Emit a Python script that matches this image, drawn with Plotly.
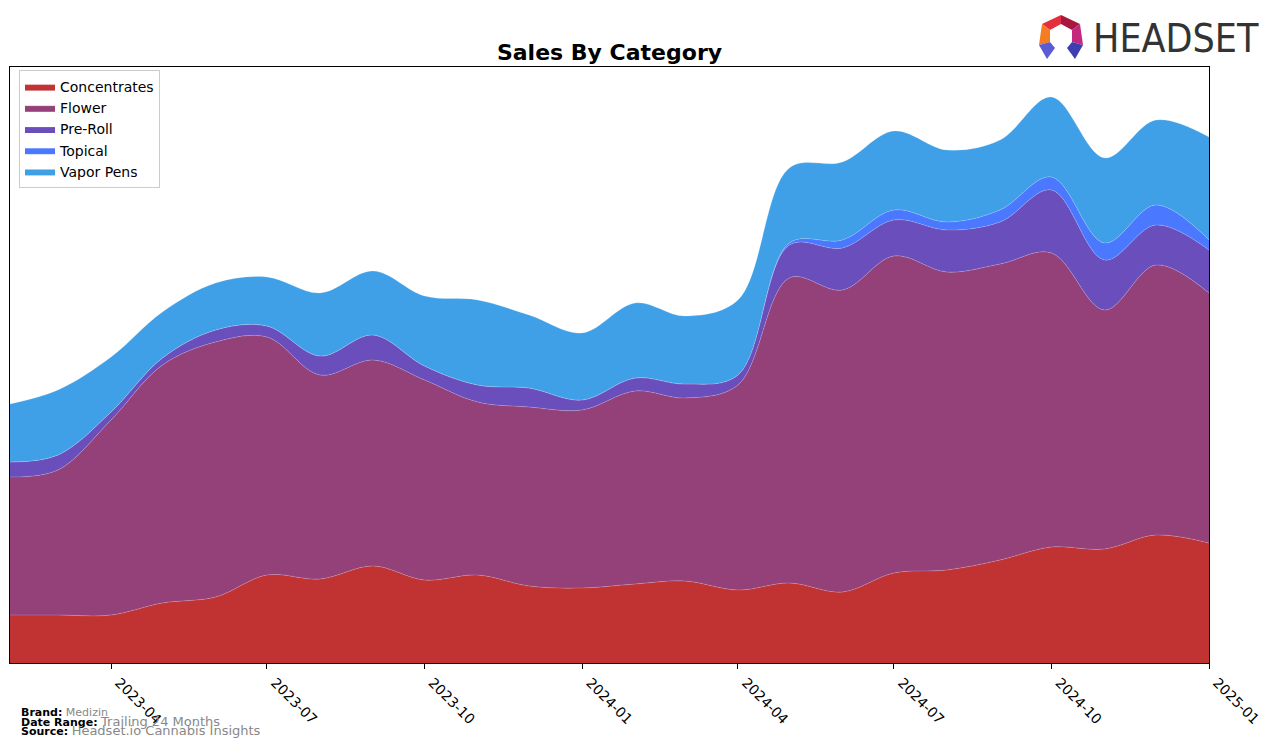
import plotly.graph_objects as go

# ---- data (arbitrary units) ----
months = ["2023-02-01", "2023-03-01", "2023-04-01", "2023-05-01", "2023-06-01", "2023-07-01",
          "2023-08-01", "2023-09-01", "2023-10-01", "2023-11-01", "2023-12-01", "2024-01-01",
          "2024-02-01", "2024-03-01", "2024-04-01", "2024-05-01", "2024-06-01", "2024-07-01",
          "2024-08-01", "2024-09-01", "2024-10-01", "2024-11-01", "2024-12-01", "2025-01-01"]

concentrates = [48, 48, 48, 60, 66, 88, 84, 97, 83, 88, 77, 75, 79, 82, 73, 80, 71, 90, 93, 103, 116, 114, 128, 120]
flower = [138, 145, 195, 238, 255, 238, 204, 206, 200, 173, 179, 178, 193, 183, 205, 305, 302, 317, 298, 296, 294, 239, 270, 250]
pre_roll = [15, 15, 8, 7, 12, 11, 19, 25, 14, 17, 19, 10, 13, 14, 10, 33, 42, 36, 42, 42, 63, 50, 40, 43]
topical = [0, 0, 0, 0, 0, 0, 0, 0, 0, 0, 0, 0, 0, 0, 0, 2, 8, 10, 8, 12, 13, 17, 20, 10]
vapor_pens = [58, 65, 55, 46, 47, 49, 63, 64, 70, 85, 73, 67, 75, 68, 75, 75, 78, 79, 72, 70, 80, 85, 85, 103]

tick_vals = ["2023-04-01", "2023-07-01", "2023-10-01", "2024-01-01",
             "2024-04-01", "2024-07-01", "2024-10-01", "2025-01-01"]
tick_text = ["2023-04", "2023-07", "2023-10", "2024-01", "2024-04", "2024-07", "2024-10", "2025-01"]

series = [
    ("Concentrates", concentrates, "#C13333"),
    ("Flower", flower, "#954179"),
    ("Pre-Roll", pre_roll, "#6A4FBC"),
    ("Topical", topical, "#4A78FF"),
    ("Vapor Pens", vapor_pens, "#3FA0E8"),
]

FONT = "DejaVu Sans"
W, H = 1276, 748
ML, MR, MT, MB = 10, 67, 67, 85
PW, PH = W - ML - MR, H - MT - MB

fig = go.Figure()
for name, vals, col in series:
    fig.add_trace(go.Scatter(
        x=months, y=vals, name=name, mode="lines", stackgroup="one",
        line=dict(shape="spline", smoothing=1.0, width=0.7, color="rgba(255,255,255,0.25)"),
        fillcolor=col,
    ))


def px2paper(px, py):
    return (px - ML) / PW, (H - MB - py) / PH


def path(points):
    s = ""
    for i, (px, py) in enumerate(points):
        x, y = px2paper(px, py)
        s += ("M" if i == 0 else "L") + f"{x:.5f},{y:.5f} "
    return s + "Z"


logo_facets = [
    ([(1042, 24), (1061, 15), (1061, 24), (1050, 30)], "#E3303C"),
    ([(1061, 15), (1080, 24), (1072, 30), (1061, 24)], "#A8173F"),
    ([(1042, 24), (1050, 30), (1050, 42), (1039, 45)], "#F47C22"),
    ([(1080, 24), (1083, 45), (1072, 42), (1072, 30)], "#C2287E"),
    ([(1039, 45), (1050, 42), (1055, 48), (1047, 59)], "#5B5BD6"),
    ([(1083, 45), (1072, 42), (1067, 48), (1075, 59)], "#3E3EB0"),
]
shapes = [dict(type="path", xref="paper", yref="paper", path=path(pts),
               fillcolor=c, line=dict(width=0)) for pts, c in logo_facets]

lx, ly = px2paper(1091, 39)
annotations = [
    dict(text="HEADSET", xref="paper", yref="paper", x=lx, y=ly, xanchor="left", yanchor="middle",
         showarrow=False, font=dict(family="Liberation Sans Narrow, DejaVu Sans Condensed, Roboto", size=39, color="#333333")),
]

foot = [
    (721, "<b>Brand:</b> <span style='color:#888888;font-size:11px'>Medizin</span>"),
    (731, "<b>Date Range:</b> <span style='color:#888888;font-size:13px'>Trailing 24 Months</span>"),
    (740, "<b>Source:</b> <span style='color:#888888;font-size:13px'>Headset.io Cannabis Insights</span>"),
]
for py, txt in foot:
    fx, fy = px2paper(19, py)
    annotations.append(dict(text=txt, xref="paper", yref="paper", x=fx, y=fy, xanchor="left",
                            yanchor="bottom", showarrow=False,
                            font=dict(family=FONT, size=11, color="black")))

fig.update_layout(
    width=W, height=H,
    margin=dict(l=ML, r=MR, t=MT, b=MB),
    paper_bgcolor="white", plot_bgcolor="white",
    font=dict(family=FONT, size=14, color="black"),
    title=dict(text="<b>Sales By Category</b>", x=(ML + PW / 2) / W, xanchor="center",
               y=1 - 52 / H, yanchor="middle", font=dict(family=FONT, size=22, color="black")),
    showlegend=True,
    legend=dict(x=px2paper(19, 0)[0], y=px2paper(0, 70)[1], xanchor="left", yanchor="top",
                bgcolor="rgba(255,255,255,0.8)", bordercolor="#CCCCCC", borderwidth=1,
                traceorder="normal", font=dict(family=FONT, size=14), itemwidth=30),
    xaxis=dict(type="date", range=["2023-02-01", "2025-01-01"], tickvals=tick_vals, ticktext=tick_text,
               tickangle=45, ticks="outside", ticklen=5, tickcolor="black", showgrid=False,
               showline=True, linecolor="black", linewidth=1, mirror=True, zeroline=False,
               ticklabelshift=8,
               tickfont=dict(family=FONT, size=14, color="black")),
    yaxis=dict(range=[0, 596], showticklabels=False, ticks="", showgrid=False,
               showline=True, linecolor="black", linewidth=1, mirror=True, zeroline=False),
    shapes=shapes,
    annotations=annotations,
)

fig.write_html("out.html")
